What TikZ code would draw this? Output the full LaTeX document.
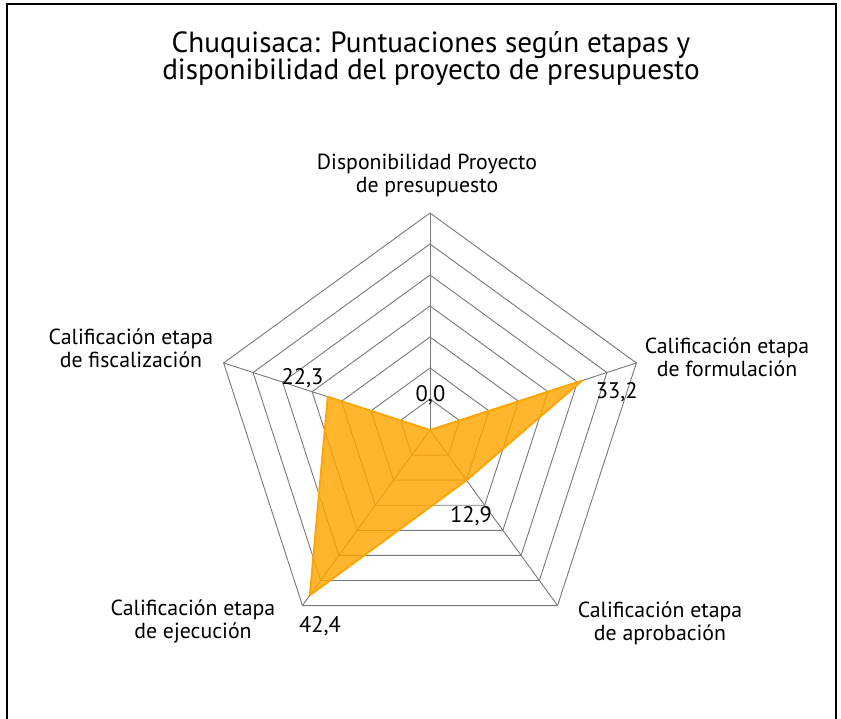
\documentclass[tikz,border=0pt]{standalone}
\usepackage{fontspec}
\setmainfont{PT Sans}
\definecolor{radarline}{RGB}{255,165,0}
\definecolor{gridgray}{RGB}{120,120,120}
\begin{document}
\begin{tikzpicture}[x=1pt,y=1pt]
	\def\R{217}
	\def\n{7}
	\def\vmax{45}
	\tikzset{grid/.style={draw=gridgray,line width=0.9pt},
		lab/.style={align=center,inner sep=0pt,font=\fontsize{21.8}{23}\selectfont},
		val/.style={inner sep=0pt,font=\fontsize{22.5}{24}\selectfont}}
	\useasboundingbox(0,0)rectangle(841,718);
	\draw[line width=2pt](7,-2)--(7,714)--(836,714)--(836,-2);
	\node[align=center,font=\fontsize{29.2}{27}\selectfont](title)at(431,660){Chuquisaca: Puntuaciones según etapas y\\disponibilidad del proyecto de presupuesto};
	\begin{scope}[shift={(430,288)}]
		\coordinate(O)at(0,0);
		\foreach \k in {1,...,\n}
		\draw[grid](90:{\k*\R/\n})--(18:{\k*\R/\n})--(-54:{\k*\R/\n})--(-126:{\k*\R/\n})--(162:{\k*\R/\n})--cycle;
		\foreach \a/\name in {90/top,18/form,-54/aprob,-126/ejec,162/fisc}
		\draw[grid](O)--(\a:\R)coordinate(\name);
		% datos
		\path(90:{0*\R/\vmax})coordinate(d1)(18:{33.2*\R/\vmax})coordinate(d2)(-54:{12.9*\R/\vmax})coordinate(d3)
		(-126:{42.4*\R/\vmax})coordinate(d4)(162:{22.3*\R/\vmax})coordinate(d5);
		\draw[draw=radarline,line width=1.8pt,line join=round,fill=radarline,fill opacity=0.82](d1)--(d2)--(d3)--(d4)--(d5)--cycle;
	\end{scope}
	\node[lab](Ltop)at(427,543){Disponibilidad Proyecto\\de presupuesto};
	\node[lab](Lform)at(727,361){Calificación etapa\\de formulación};
	\node[lab](Laprob)at(660,95){Calificación etapa\\de aprobación};
	\node[lab](Lejec)at(193,97){Calificación etapa\\de ejecución};
	\node[lab](Lfisc)at(131,370){Calificación etapa\\de fiscalización};
	\node[val](v1)at(430.5,323){0,0};
	\node[val](v2)at(616.7,326.3){33,2};
	\node[val](v3)at(471,202){12,9};
	\node[val](v4)at(320,92){42,4};
	\node[val](v5)at(302.5,340){22,3};
\end{tikzpicture}
\end{document}
